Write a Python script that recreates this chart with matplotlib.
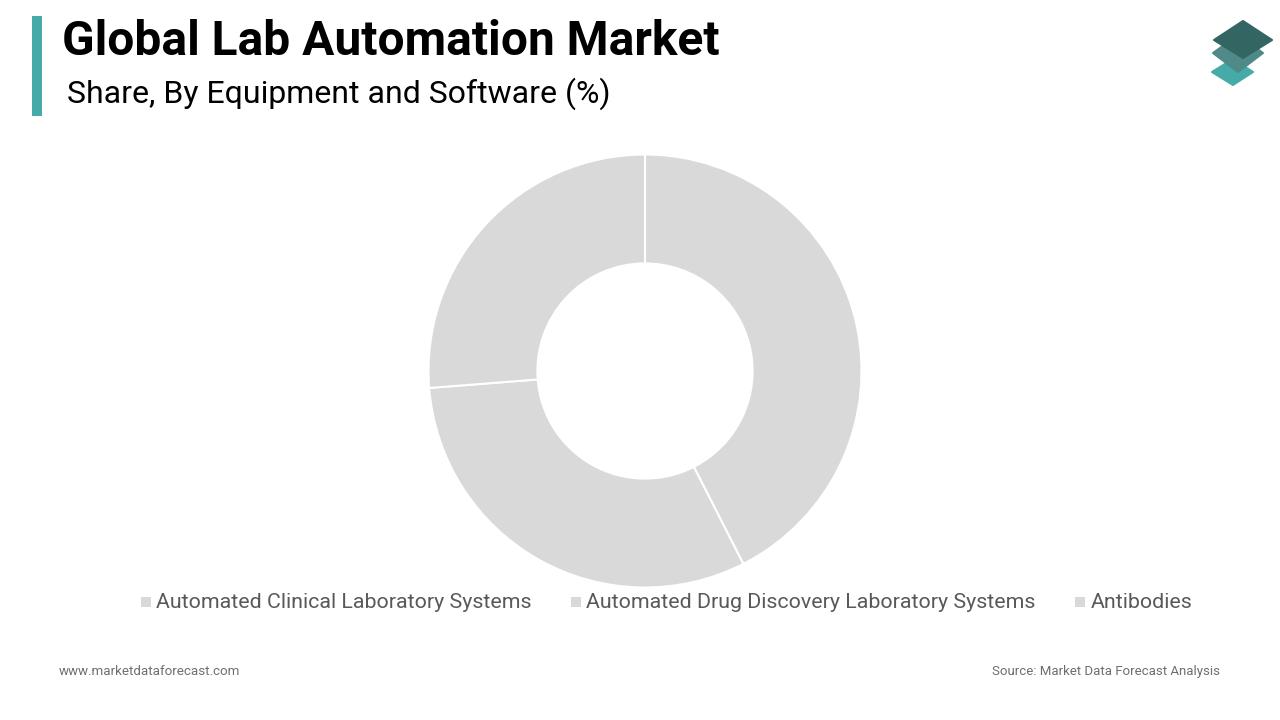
import matplotlib
matplotlib.use("Agg")
import matplotlib.pyplot as plt
from matplotlib.patches import Polygon, Rectangle

plt.rcParams['font.family'] = ['Roboto', 'DejaVu Sans']

segments = ['Automated Clinical Laboratory Systems',
            'Automated Drug Discovery Laboratory Systems',
            'Antibodies']
shares = [42.5, 31.25, 26.25]
slice_color = '#d9d9d9'

W, H = 1280, 720
fig = plt.figure(figsize=(W / 100, H / 100), dpi=100, facecolor='white')

# page overlay in pixel coordinates, y going down
page = fig.add_axes([0, 0, 1, 1])
page.set_xlim(0, W)
page.set_ylim(H, 0)
page.axis('off')

page.add_patch(Rectangle((32, 16), 10, 100, facecolor='#45aaa8', linewidth=0))
page.text(62, 55, 'Global Lab Automation Market', fontsize=34.5, fontweight='bold',
          color='black', va='baseline')
page.text(67, 103, 'Share, By Equipment and Software (%)', fontsize=23.03,
          color='black', va='baseline')

# logo, three stacked diamonds
logo = dict(linewidth=1.5, joinstyle='round')
page.add_patch(Polygon([(1233, 59), (1253, 72), (1233, 85), (1212, 72)],
                       facecolor='#45aaa8', edgecolor='#45aaa8', **logo))
page.add_patch(Polygon([(1238, 35), (1263, 53), (1238, 72), (1213, 53)],
                       facecolor='#4f8a89', edgecolor='#4f8a89', **logo))
page.add_patch(Polygon([(1243, 21), (1272, 40), (1243, 58), (1214, 40)],
                       facecolor='#336663', edgecolor='#336663', **logo))

# donut
cx, cy, r = 645, 371, 216.5
ax = fig.add_axes([(cx - r) / W, 1 - (cy + r) / H, 2 * r / W, 2 * r / H])
ax.pie(shares, startangle=90, counterclock=False, radius=1,
       colors=[slice_color] * len(shares),
       wedgeprops=dict(width=0.503, edgecolor='white', linewidth=1.5))
ax.set_xlim(-1, 1)
ax.set_ylim(-1, 1)

# legend
legend_x = [141, 571, 1075]
for x, name in zip(legend_x, segments):
    page.add_patch(Rectangle((x, 597), 10, 10, facecolor=slice_color, linewidth=0))
    page.text(x + 15.5, 608, name, fontsize=15.4, color='#595959', va='baseline')

page.text(59, 675, 'www.marketdataforecast.com', fontsize=9.65, color='#6e6e6e', va='baseline')
page.text(1220, 675, 'Source: Market Data Forecast Analysis', fontsize=9.55, color='#6e6e6e',
          va='baseline', ha='right')

fig.savefig('out.png', dpi=100, facecolor='white')
